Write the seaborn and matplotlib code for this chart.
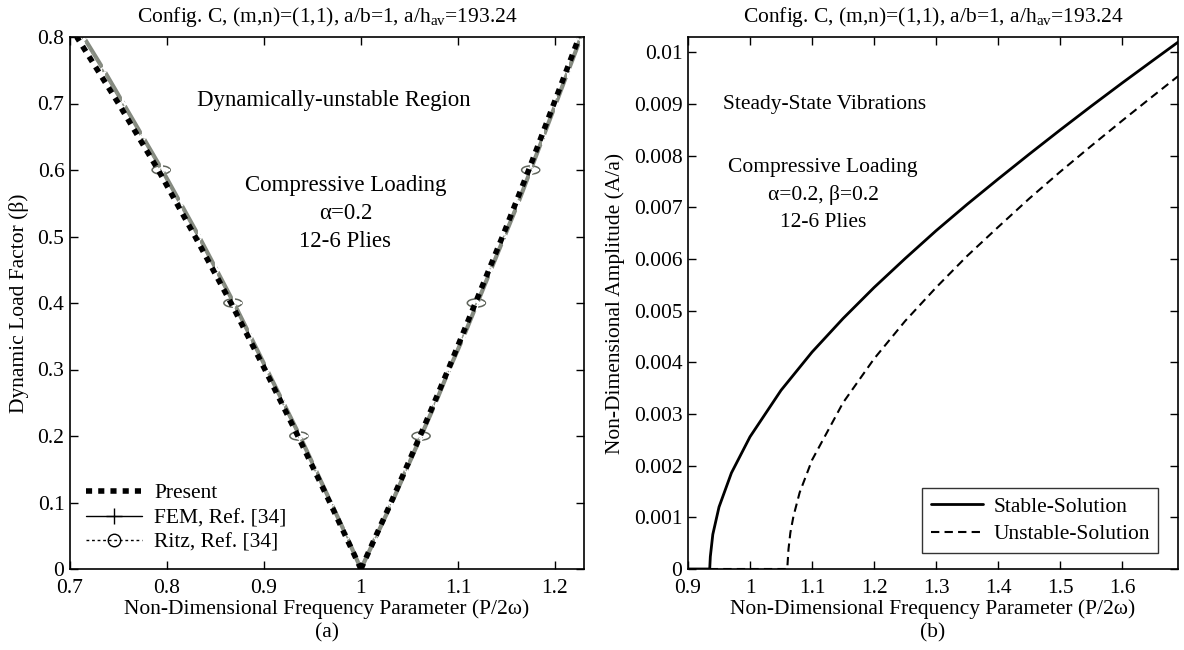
import matplotlib
matplotlib.use("Agg")
import matplotlib.pyplot as plt
from matplotlib.lines import Line2D
from matplotlib.path import Path
from matplotlib.transforms import Affine2D
import pandas as pd
import seaborn as sns

# ---------------- (a) instability region boundaries ----------------
beta = [0.0, 0.1, 0.2, 0.3, 0.4, 0.5, 0.6, 0.7, 0.8]
present_lower = [1.000, 0.968, 0.935, 0.901, 0.866, 0.829, 0.791, 0.750, 0.707]
present_upper = [1.000, 1.031, 1.061, 1.090, 1.118, 1.146, 1.173, 1.199, 1.225]

beta_ref = [0.0, 0.05, 0.10, 0.15, 0.20, 0.25, 0.30, 0.35, 0.40,
            0.45, 0.50, 0.55, 0.60, 0.65, 0.70, 0.75, 0.80]
fem_lower = [1.000, 0.985, 0.969, 0.953, 0.937, 0.920, 0.903, 0.886, 0.869,
             0.851, 0.833, 0.814, 0.795, 0.775, 0.755, 0.735, 0.714]
fem_upper = [1.000, 1.016, 1.032, 1.047, 1.062, 1.077, 1.091, 1.106, 1.120,
             1.134, 1.148, 1.162, 1.175, 1.188, 1.201, 1.214, 1.227]
ritz_lower = [1.000, 0.985, 0.969, 0.952, 0.936, 0.919, 0.902, 0.885, 0.868,
              0.850, 0.832, 0.813, 0.794, 0.774, 0.754, 0.734, 0.713]
ritz_upper = [1.000, 1.016, 1.031, 1.047, 1.062, 1.076, 1.091, 1.105, 1.119,
              1.133, 1.147, 1.161, 1.175, 1.188, 1.200, 1.213, 1.226]
key_beta = [0.2, 0.4, 0.6]

# ---------------- (b) steady-state amplitude ----------------
stable_freq = [0.900, 0.935, 0.936, 0.940, 0.950, 0.970, 1.000, 1.050, 1.100,
               1.150, 1.200, 1.250, 1.300, 1.350, 1.400, 1.450, 1.500, 1.550,
               1.600, 1.650, 1.690]
stable_amp = [0.0, 0.0, 0.00024, 0.00067, 0.00120, 0.00186, 0.00256, 0.00346,
              0.00420, 0.00485, 0.00545, 0.00601, 0.00655, 0.00706, 0.00755,
              0.00803, 0.00850, 0.00896, 0.00941, 0.00985, 0.01020]
unstable_freq = [0.935, 1.000, 1.060, 1.061, 1.062, 1.065, 1.070, 1.080, 1.100,
                 1.150, 1.200, 1.250, 1.300, 1.350, 1.400, 1.450, 1.500, 1.550,
                 1.600, 1.650, 1.690]
unstable_amp = [0.0, 0.0, 0.0, 0.00019, 0.00038, 0.00070, 0.00102, 0.00148,
                0.00211, 0.00322, 0.00407, 0.00480, 0.00545, 0.00606, 0.00662,
                0.00717, 0.00769, 0.00819, 0.00868, 0.00916, 0.00954]

xticks_a = [0.7, 0.8, 0.9, 1.0, 1.1, 1.2]
xticklabels_a = ["0.7", "0.8", "0.9", "1", "1.1", "1.2"]
yticks_a = [0.0, 0.1, 0.2, 0.3, 0.4, 0.5, 0.6, 0.7, 0.8]
yticklabels_a = ["0", "0.1", "0.2", "0.3", "0.4", "0.5", "0.6", "0.7", "0.8"]
xticks_b = [0.9, 1.0, 1.1, 1.2, 1.3, 1.4, 1.5, 1.6]
xticklabels_b = ["0.9", "1", "1.1", "1.2", "1.3", "1.4", "1.5", "1.6"]
yticks_b = [0.0, 0.001, 0.002, 0.003, 0.004, 0.005, 0.006, 0.007, 0.008, 0.009, 0.01]
yticklabels_b = ["0", "0.001", "0.002", "0.003", "0.004", "0.005", "0.006",
                 "0.007", "0.008", "0.009", "0.01"]

title_text = r"Config. C, (m,n)=(1,1), a/b=1, a/h$_{\mathrm{av}}$=193.24"
xlabel_text = "Non-Dimensional Frequency Parameter (P/2\u03c9)"

sns.set_theme(style="white")
FS = 15.5
FS_NOTE_A = 16.5
FS_NOTE_B = 15.5
plt.rcParams.update({
    "font.family": ["Liberation Serif", "DejaVu Serif"],
    "mathtext.fontset": "custom",
    "mathtext.rm": "Liberation Serif",
    "mathtext.it": "Liberation Serif:italic",
    "font.size": FS,
    "axes.titlesize": FS,
    "axes.labelsize": FS,
    "xtick.labelsize": FS,
    "ytick.labelsize": FS,
    "legend.fontsize": FS,
    "axes.edgecolor": "black",
    "axes.linewidth": 1.2,
    "xtick.direction": "in",
    "ytick.direction": "in",
    "xtick.top": True,
    "ytick.right": True,
    "xtick.bottom": True,
    "ytick.left": True,
    "xtick.major.size": 6,
    "ytick.major.size": 6,
    "xtick.major.width": 1.0,
    "ytick.major.width": 1.0,
    "xtick.major.pad": 7,
    "ytick.major.pad": 4,
    "xtick.color": "black",
    "ytick.color": "black",
    "text.color": "black",
    "axes.labelcolor": "black",
})

fig = plt.figure(figsize=(11.84, 6.5), dpi=100)
ax_a = fig.add_axes([70 / 1184, 81 / 650, 514 / 1184, 532 / 650])
ax_b = fig.add_axes([688 / 1184, 81 / 650, 490 / 1184, 532 / 650])


def branches(freq_lo, freq_hi, b):
    return pd.DataFrame({
        "freq": list(freq_lo) + list(freq_hi),
        "beta": list(b) + list(b),
        "branch": ["lower"] * len(b) + ["upper"] * len(b),
    })


df_fem = branches(fem_lower, fem_upper, beta_ref)
df_ritz = branches(ritz_lower, ritz_upper, beta_ref)
df_present = branches(present_lower, present_upper, beta)

# reference solutions drawn as a grey textured band under the present curve
sns.lineplot(data=df_fem, x="freq", y="beta", units="branch", estimator=None,
             sort=False, color="#858a80", lw=3.0, marker="+", ms=11, mew=1.5,
             ax=ax_a, legend=False)
sns.lineplot(data=df_ritz, x="freq", y="beta", units="branch", estimator=None,
             sort=False, color="#8f9589", lw=1.2, linestyle=(0, (2, 2)),
             marker="o", ms=4, mfc="none", mew=0.9, ax=ax_a, legend=False)

# highlighted reference points: long horizontal cross + flattened circle
df_key_fem = df_fem[df_fem["beta"].round(3).isin(key_beta)]
df_key_ritz = df_ritz[df_ritz["beta"].round(3).isin(key_beta)]
hbar = Path([(-1, 0), (1, 0), (0, -0.4), (0, 0.4)],
            [Path.MOVETO, Path.LINETO, Path.MOVETO, Path.LINETO])
flat_circle = Path.unit_circle().transformed(Affine2D().scale(1.0, 0.45))
sns.scatterplot(data=df_key_fem, x="freq", y="beta", marker=hbar, s=560,
                color="#5c6159", linewidth=1.4, ax=ax_a, legend=False)
sns.scatterplot(data=df_key_ritz, x="freq", y="beta", marker=flat_circle, s=170,
                facecolor="none", edgecolor="#60655c", linewidth=1.1, ax=ax_a,
                legend=False)

sns.lineplot(data=df_present, x="freq", y="beta", units="branch", estimator=None,
             sort=False, color="black", lw=4.0, linestyle=(0, (1.1, 1.1)),
             dash_capstyle="butt", ax=ax_a, legend=False)

ax_a.set_xlim(0.7, 1.23)
ax_a.set_ylim(0, 0.8)
ax_a.set_xticks(xticks_a)
ax_a.set_xticklabels(xticklabels_a)
ax_a.set_yticks(yticks_a)
ax_a.set_yticklabels(yticklabels_a)
ax_a.set_xlabel(xlabel_text + "\n(a)", linespacing=1.3, labelpad=1)
ax_a.set_ylabel("Dynamic Load Factor (\u03b2)", labelpad=6)
ax_a.set_title(title_text, pad=11)

ax_a.text(0.972, 0.705, "Dynamically-unstable Region", ha="center",
          va="center", fontsize=FS_NOTE_A)
ax_a.text(0.984, 0.577, "Compressive Loading", ha="center", va="center",
          fontsize=FS_NOTE_A)
ax_a.text(0.984, 0.535, "\u03b1=0.2", ha="center", va="center",
          fontsize=FS_NOTE_A)
ax_a.text(0.984, 0.493, "12-6 Plies", ha="center", va="center",
          fontsize=FS_NOTE_A)

handles_a = [
    Line2D([], [], color="black", lw=4.0, linestyle=(0, (1.1, 1.1)),
           dash_capstyle="butt"),
    Line2D([], [], color="black", lw=1.0, marker="+", ms=12, mew=1.0),
    Line2D([], [], color="black", lw=1.0, linestyle=(0, (2, 2)), marker="o",
           ms=9, mfc="none", mew=1.0),
]
ax_a.legend(handles_a, ["Present", "FEM, Ref. [34]", "Ritz, Ref. [34]"],
            loc="lower left", bbox_to_anchor=(0.0, 0.0), frameon=False,
            handlelength=2.6, handletextpad=0.55, labelspacing=0.22,
            borderaxespad=0.35)

df_stable = pd.DataFrame({"freq": stable_freq, "amp": stable_amp})
df_unstable = pd.DataFrame({"freq": unstable_freq, "amp": unstable_amp})
sns.lineplot(data=df_stable, x="freq", y="amp", sort=False, estimator=None,
             color="black", lw=2.0, ax=ax_b, label="Stable-Solution")
sns.lineplot(data=df_unstable, x="freq", y="amp", sort=False, estimator=None,
             color="black", lw=1.5, linestyle=(0, (4, 2.5)), ax=ax_b,
             label="Unstable-Solution")

ax_b.set_xlim(0.9, 1.69)
ax_b.set_ylim(0, 0.0103)
ax_b.set_xticks(xticks_b)
ax_b.set_xticklabels(xticklabels_b)
ax_b.set_yticks(yticks_b)
ax_b.set_yticklabels(yticklabels_b)
ax_b.set_xlabel(xlabel_text + "\n(b)", linespacing=1.3, labelpad=1)
ax_b.set_ylabel("Non-Dimensional Amplitude (A/a)", labelpad=6)
ax_b.set_title(title_text, pad=11)

ax_b.text(1.12, 0.0090, "Steady-State Vibrations", ha="center", va="center",
          fontsize=FS_NOTE_B)
ax_b.text(1.118, 0.00778, "Compressive Loading", ha="center", va="center",
          fontsize=FS_NOTE_B)
ax_b.text(1.118, 0.00724, "\u03b1=0.2, \u03b2=0.2", ha="center", va="center",
          fontsize=FS_NOTE_B)
ax_b.text(1.118, 0.00670, "12-6 Plies", ha="center", va="center",
          fontsize=FS_NOTE_B)

leg_b = ax_b.legend(loc="lower right", bbox_to_anchor=(0.96, 0.03),
                    frameon=True, fancybox=False, handlelength=2.4,
                    handletextpad=0.5, labelspacing=0.35, borderpad=0.4,
                    borderaxespad=0.0)
leg_b.get_frame().set_edgecolor("black")
leg_b.get_frame().set_linewidth(1.0)

for ax in (ax_a, ax_b):
    for sp in ax.spines.values():
        sp.set_visible(True)
        sp.set_color("black")

fig.savefig("out.png", dpi=100, facecolor="white")
